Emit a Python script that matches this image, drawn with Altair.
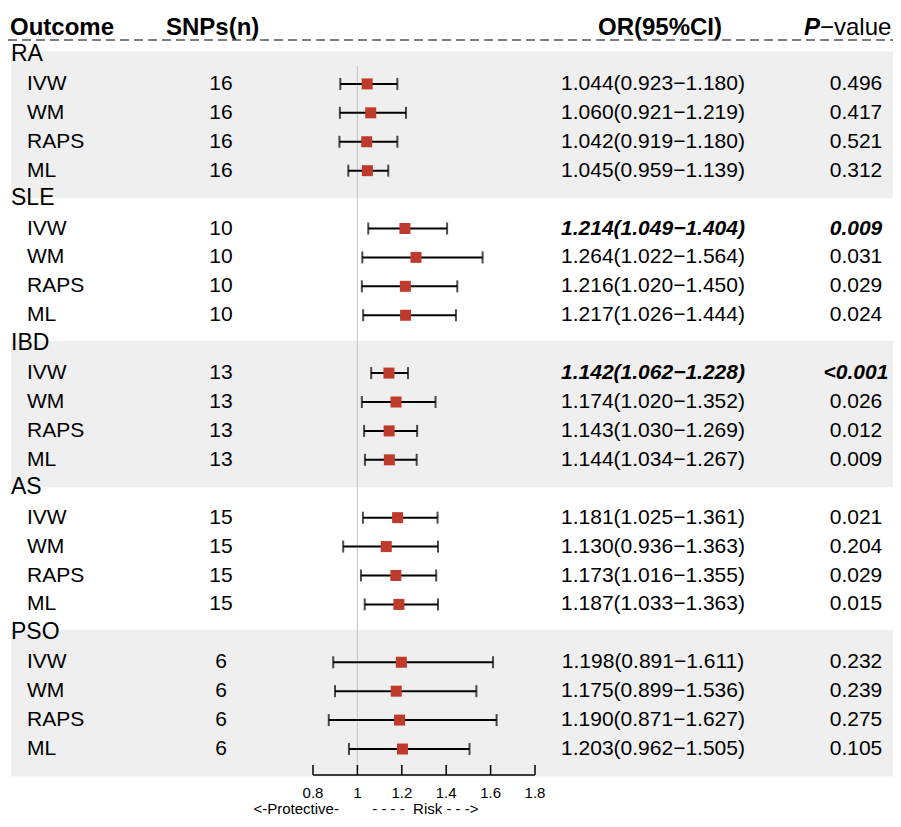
import altair as alt
import pandas as pd

# ---------------- data ----------------
outcomes = ["RA", "SLE", "IBD", "AS", "PSO"]
snps = [16, 10, 13, 15, 6]
methods = ["IVW", "WM", "RAPS", "ML"]
or_vals = [1.044, 1.060, 1.042, 1.045,
           1.214, 1.264, 1.216, 1.217,
           1.142, 1.174, 1.143, 1.144,
           1.181, 1.130, 1.173, 1.187,
           1.198, 1.175, 1.190, 1.203]
ci_low = [0.923, 0.921, 0.919, 0.959,
          1.049, 1.022, 1.020, 1.026,
          1.062, 1.020, 1.030, 1.034,
          1.025, 0.936, 1.016, 1.033,
          0.891, 0.899, 0.871, 0.962]
ci_high = [1.180, 1.219, 1.180, 1.139,
           1.404, 1.564, 1.450, 1.444,
           1.228, 1.352, 1.269, 1.267,
           1.361, 1.363, 1.355, 1.363,
           1.611, 1.536, 1.627, 1.505]
p_text = ["0.496", "0.417", "0.521", "0.312",
          "0.009", "0.031", "0.029", "0.024",
          "<0.001", "0.026", "0.012", "0.009",
          "0.021", "0.204", "0.029", "0.015",
          "0.232", "0.239", "0.275", "0.105"]
highlight = [False, False, False, False,
             True, False, False, False,
             True, False, False, False,
             False, False, False, False,
             False, False, False, False]
tick_vals = [0.8, 1.0, 1.2, 1.4, 1.6, 1.8]
tick_labels = ["0.8", "1", "1.2", "1.4", "1.6", "1.8"]
shaded_groups = [0, 2, 4]

# ---------------- tables ----------------
headers = pd.DataFrame({"outcome": outcomes,
                        "idx": [g * 5 - 0.05 for g in range(len(outcomes))]})
rows = []
k = 0
for g, o in enumerate(outcomes):
    for m, meth in enumerate(methods):
        rows.append({
            "idx": g * 5 + 1 + m,
            "method": meth,
            "snps": str(snps[g]),
            "or": or_vals[k], "lo": ci_low[k], "hi": ci_high[k],
            "ortxt": f"{or_vals[k]:.3f}({ci_low[k]:.3f}\u2212{ci_high[k]:.3f})",
            "p": p_text[k],
            "hl": highlight[k],
        })
        k += 1
df = pd.DataFrame(rows)
bands = pd.DataFrame({"y0": [g * 5 - 0.12 for g in shaded_groups],
                      "y1": [g * 5 + 4.95 for g in shaded_groups]})
ticks = pd.DataFrame({"v": tick_vals, "lab": tick_labels})
axis_df = pd.DataFrame({"a": [tick_vals[0]], "b": [tick_vals[-1]]})
ref_df = pd.DataFrame({"v": [1.0]})
one = pd.DataFrame({"d": [0]})

# ---------------- scales ----------------
yscale = alt.Scale(domain=[0, 24], range=[47, 741], zero=False, nice=False)
xscale = alt.Scale(domain=[0.8, 1.8], range=[305, 527], zero=False, nice=False)
FONT = "Arial"
RED = "#BE3A2B"

Y = alt.Y("idx:Q", scale=yscale, axis=None)

band_layer = alt.Chart(bands).mark_rect(color="#EFEFEF").encode(
    x=alt.value(3), x2=alt.value(885),
    y=alt.Y("y0:Q", scale=yscale, axis=None), y2="y1:Q")

ref_layer = alt.Chart(ref_df).mark_rule(color="#C4C4C4", strokeWidth=1).encode(
    x=alt.X("v:Q", scale=xscale, axis=None), y=alt.value(58), y2=alt.value(767))

err_layer = alt.Chart(df).mark_rule(color="black", strokeWidth=2).encode(
    x=alt.X("lo:Q", scale=xscale, axis=None), x2="hi:Q", y=Y)
cap_lo = alt.Chart(df).mark_tick(orient="vertical", size=12, thickness=2, color="black").encode(
    x=alt.X("lo:Q", scale=xscale, axis=None), y=Y)
cap_hi = alt.Chart(df).mark_tick(orient="vertical", size=12, thickness=2, color="black").encode(
    x=alt.X("hi:Q", scale=xscale, axis=None), y=Y)
pt_layer = alt.Chart(df).mark_square(size=121, color=RED, opacity=1).encode(
    x=alt.X("or:Q", scale=xscale, axis=None), y=Y)

txt = dict(font=FONT, fontSize=21, color="black", baseline="middle")
grp_layer = alt.Chart(headers).mark_text(font=FONT, fontSize=23, color="black",
                                         baseline="middle", align="left").encode(
    x=alt.value(3), y=alt.Y("idx:Q", scale=yscale, axis=None), text="outcome:N")
meth_layer = alt.Chart(df).mark_text(align="left", **txt).encode(
    x=alt.value(19), y=Y, text="method:N")
snp_layer = alt.Chart(df).mark_text(align="center", **txt).encode(
    x=alt.value(213), y=Y, text="snps:N")
or_norm = alt.Chart(df).transform_filter("!datum.hl").mark_text(align="center", **txt).encode(
    x=alt.value(645), y=Y, text="ortxt:N")
or_bold = alt.Chart(df).transform_filter("datum.hl").mark_text(
    align="center", fontWeight="bold", fontStyle="italic", **txt).encode(
    x=alt.value(645), y=Y, text="ortxt:N")
p_norm = alt.Chart(df).transform_filter("!datum.hl").mark_text(align="center", **txt).encode(
    x=alt.value(848), y=Y, text="p:N")
p_bold = alt.Chart(df).transform_filter("datum.hl").mark_text(
    align="center", fontWeight="bold", fontStyle="italic", **txt).encode(
    x=alt.value(848), y=Y, text="p:N")

hdr = dict(font=FONT, fontSize=24, color="black", baseline="alphabetic", fontWeight="bold")
h1 = alt.Chart(one).mark_text(align="left", text="Outcome", **hdr).encode(x=alt.value(2), y=alt.value(27))
h2 = alt.Chart(one).mark_text(align="left", text="SNPs(n)", **hdr).encode(x=alt.value(158), y=alt.value(27))
h3 = alt.Chart(one).mark_text(align="center", text="OR(95%CI)", **hdr).encode(x=alt.value(652), y=alt.value(27))
h4 = alt.Chart(one).mark_text(align="right", text="P", fontStyle="italic", **hdr).encode(x=alt.value(812), y=alt.value(27))
h5 = alt.Chart(one).mark_text(align="left", text="\u2212value", font=FONT, fontSize=24, color="black",
                              baseline="alphabetic").encode(x=alt.value(812), y=alt.value(27))
dash = alt.Chart(one).mark_rule(color="#555555", strokeWidth=1.3, strokeDash=[9, 5]).encode(
    x=alt.value(0), x2=alt.value(885), y=alt.value(32))

axis_line = alt.Chart(axis_df).mark_rule(color="black", strokeWidth=1.5).encode(
    x=alt.X("a:Q", scale=xscale, axis=None), x2="b:Q", y=alt.value(767))
axis_ticks = alt.Chart(ticks).mark_rule(color="black", strokeWidth=1.5).encode(
    x=alt.X("v:Q", scale=xscale, axis=None), y=alt.value(757), y2=alt.value(767))
axis_labels = alt.Chart(ticks).mark_text(font=FONT, fontSize=15, color="black",
                                         baseline="middle", align="center").encode(
    x=alt.X("v:Q", scale=xscale, axis=None), y=alt.value(785), text="lab:N")
risk_lab = alt.Chart(one).mark_text(
    font=FONT, fontSize=15, color="black", baseline="alphabetic", align="center",
    text="<-Protective-\u00a0\u00a0\u00a0\u00a0\u00a0\u00a0\u00a0\u00a0-\u00a0-\u00a0-\u00a0-\u00a0\u00a0Risk\u00a0-\u00a0-\u00a0->"
).encode(x=alt.value(358), y=alt.value(806))

chart = alt.layer(
    band_layer, ref_layer, err_layer, cap_lo, cap_hi, pt_layer,
    grp_layer, meth_layer, snp_layer, or_norm, or_bold, p_norm, p_bold,
    h1, h2, h3, h4, h5, dash, axis_line, axis_ticks, axis_labels, risk_lab
).properties(
    width=885, height=811, autosize=alt.AutoSizeParams(type="none"), padding=0
).configure_view(stroke=None)

chart.save("out.html", embed_options={"renderer": "svg", "actions": False})
